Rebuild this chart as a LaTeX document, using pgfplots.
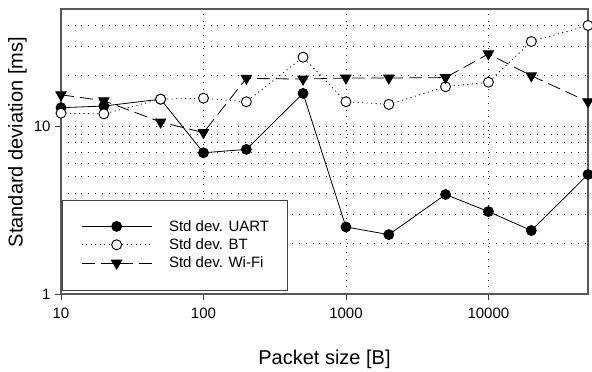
\documentclass[border=0pt]{standalone}
\usepackage{fontspec}
\setmainfont{Liberation Sans}
\usepackage{pgfplots}
\pgfplotsset{compat=1.18}
\begin{document}
\begin{tikzpicture}
\begin{axis}[name=ax,
  scale only axis, width=527bp, height=285bp,
  xmode=log, ymode=log,
  xmin=10, xmax=50000, ymin=1, ymax=50,
  xtick={10,100,1000,10000}, xticklabels={10,100,1000,10000},
  ytick={1,10}, yticklabels={1,10},
  minor ytick={2,3,4,5,6,7,8,9,20,30,40},
  minor xtick={},
  xmajorgrids, ymajorgrids, yminorgrids,
  grid style={black!85, line width=0.6bp, dash pattern=on 0.8bp off 6bp},
  minor grid style={black!85, line width=0.6bp, dash pattern=on 0.8bp off 6bp},
  tick align=outside, major tick length=6bp, minor tick length=0pt,
  tick pos=left,
  tick style={black!75, line width=0.8bp},
  axis line style={black!65, line width=1.2bp},
  ticklabel style={font=\fontsize{15bp}{17bp}\selectfont},
  xticklabel style={yshift=-5bp},
  yticklabel style={xshift=-1bp},
  /pgf/number format/assume math mode=true,
  xlabel={Packet size [B]}, ylabel={Standard deviation [ms]},
  label style={font=\fontsize{20bp}{24bp}\selectfont},
  xlabel style={at={(axis description cs:0.5,-0.228)}, anchor=center},
  ylabel style={at={(axis description cs:-0.0825,0.533)}, anchor=center},
  legend cell align=left,
  legend image code/.code={\path (0bp,0bp); \draw[mark repeat=2,mark phase=2,#1] plot coordinates {(6bp,0bp) (41bp,0bp) (76bp,0bp)};},
  legend style={at={(0.002,0.014)}, anchor=south west, draw=black!75,
    font=\fontsize{15bp}{17bp}\selectfont,
    inner xsep=13bp, inner ysep=19bp, row sep=3bp, column sep=12bp,
    nodes={inner xsep=5bp, inner ysep=1.5bp}},
]
\addplot[black, line width=0.8bp, mark=*, mark size=5bp, mark options={solid, fill=black}] coordinates {
(10,12.9) (20,13.2) (50,14.5) (100,6.95) (200,7.28) (500,15.7) (1000,2.51) (2000,2.26) (5000,3.92) (10000,3.10) (20000,2.39) (50000,5.16)};
\addlegendentry{Std dev. UART}
\addplot[black, line width=0.8bp, dash pattern=on 1.1bp off 3.4bp, mark=*, mark size=5bp, mark options={solid, draw=black, fill=white, line width=0.9bp}] coordinates {
(10,11.96) (20,11.85) (50,14.5) (100,14.7) (200,14.0) (500,25.8) (1000,14.0) (2000,13.5) (5000,17.2) (10000,18.3) (20000,32) (50000,39.9)};
\addlegendentry{Std dev. BT}
\addplot[black, line width=0.8bp, dash pattern=on 13bp off 6bp, mark=triangle*, mark size=6bp, mark options={solid, fill=black, rotate=180}] coordinates {
(10,15.4) (20,14.2) (50,10.6) (100,9.17) (200,19.3) (500,19.1) (1000,19.4) (2000,19.4) (5000,19.5) (10000,27) (20000,20) (50000,14.0)};
\addlegendentry{Std dev. Wi-Fi}
\end{axis}
\pgfresetboundingbox
\path[use as bounding box] ([shift={(-61bp,-77bp)}]ax.south west) rectangle ([shift={(4bp,9bp)}]ax.north east);
\end{tikzpicture}
\end{document}
